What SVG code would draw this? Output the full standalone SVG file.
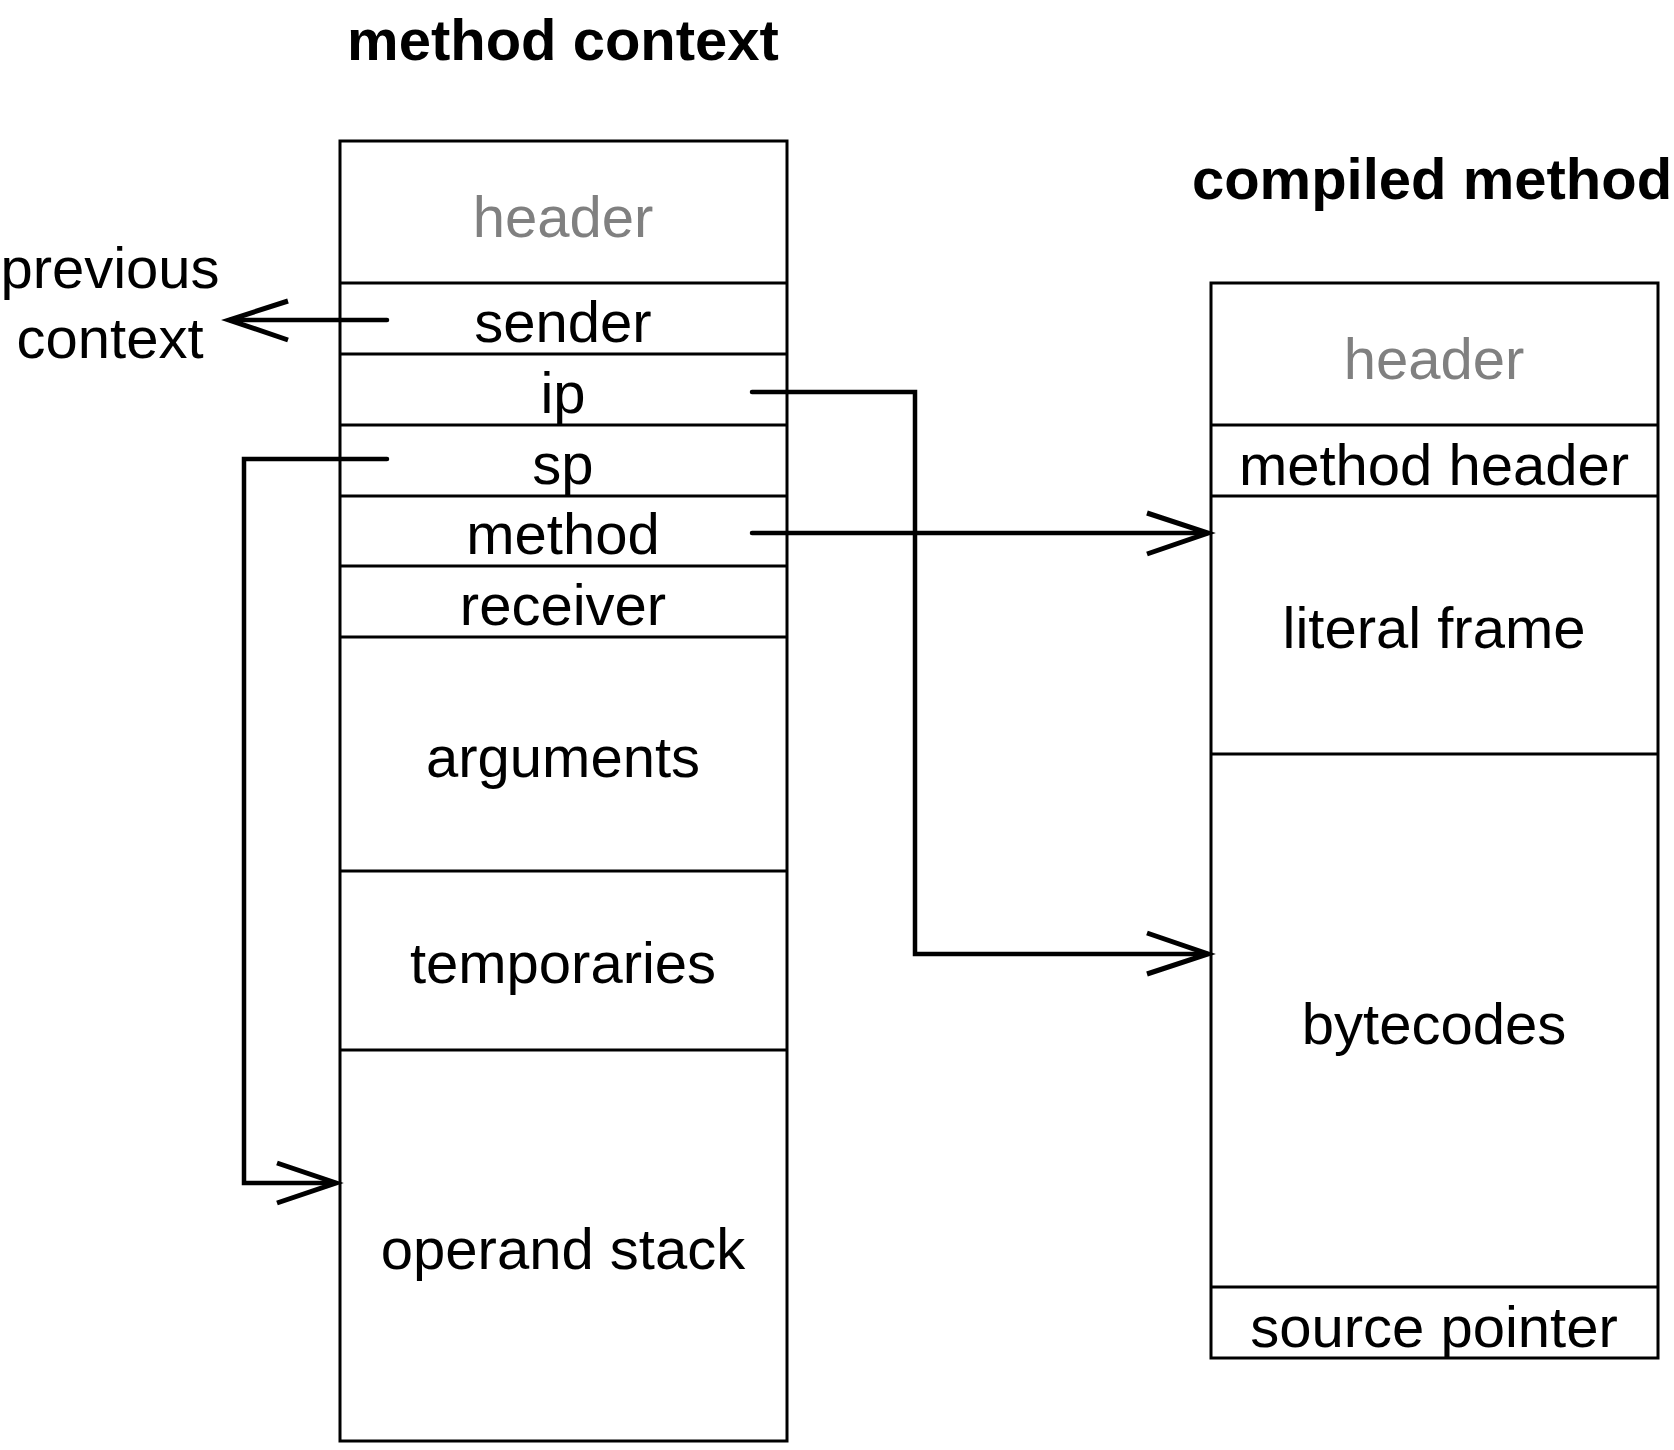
<svg xmlns="http://www.w3.org/2000/svg" width="1674" height="1450" viewBox="0 0 1674 1450">
<style>
.box{fill:#fff;stroke:#000;stroke-width:3}
.div{stroke:#000;stroke-width:3}
.t{font-family:"Liberation Sans",Arial,sans-serif;font-size:58px;fill:#000;text-anchor:middle}
.g{fill:#808080}
.title{font-weight:bold}
.conn{fill:none;stroke:#000;stroke-width:4.5;stroke-linecap:round;stroke-linejoin:miter}
.head{fill:none;stroke:#000;stroke-width:5;stroke-linecap:butt;stroke-linejoin:miter}
</style>
<rect width="1674" height="1450" fill="#fff"/>
<g id="titles">
<text class="t title" x="563" y="60">method context</text>
<text class="t title" x="1432" y="199">compiled method</text>
</g>
<g id="method-context">
<rect class="box" x="340" y="141" width="447" height="1300"/>
<line class="div" x1="340" y1="283" x2="787" y2="283"/>
<line class="div" x1="340" y1="354" x2="787" y2="354"/>
<line class="div" x1="340" y1="425" x2="787" y2="425"/>
<line class="div" x1="340" y1="496" x2="787" y2="496"/>
<line class="div" x1="340" y1="566" x2="787" y2="566"/>
<line class="div" x1="340" y1="637" x2="787" y2="637"/>
<line class="div" x1="340" y1="871" x2="787" y2="871"/>
<line class="div" x1="340" y1="1050" x2="787" y2="1050"/>
<text class="t g" x="563" y="237">header</text>
<text class="t" x="563" y="342">sender</text>
<text class="t" x="563" y="413">ip</text>
<text class="t" x="563" y="484">sp</text>
<text class="t" x="563" y="554">method</text>
<text class="t" x="563" y="625">receiver</text>
<text class="t" x="563" y="777">arguments</text>
<text class="t" x="563" y="983">temporaries</text>
<text class="t" x="563" y="1269">operand stack</text>
</g>
<g id="compiled-method">
<rect class="box" x="1211" y="283" width="447" height="1075"/>
<line class="div" x1="1211" y1="425" x2="1658" y2="425"/>
<line class="div" x1="1211" y1="496" x2="1658" y2="496"/>
<line class="div" x1="1211" y1="754" x2="1658" y2="754"/>
<line class="div" x1="1211" y1="1287" x2="1658" y2="1287"/>
<text class="t g" x="1434" y="379">header</text>
<text class="t" x="1434" y="485">method header</text>
<text class="t" x="1434" y="648">literal frame</text>
<text class="t" x="1434" y="1044">bytecodes</text>
<text class="t" x="1434" y="1347">source pointer</text>
</g>
<g id="previous-context">
<text class="t" x="110" y="288">previous</text>
<text class="t" x="110" y="358">context</text>
</g>
<g id="connectors">
<path class="conn" d="M387,320 H230"/>
<path class="head" d="M288,301 L229,320 L288,340"/>
<path class="conn" d="M752,392 H915 V954 H1206"/>
<path class="head" d="M1147,933 L1208,954 L1147,974"/>
<path class="conn" d="M752,533 H1206"/>
<path class="head" d="M1147,513 L1208,533 L1147,554"/>
<path class="conn" d="M387,459 H244 V1183 H334"/>
<path class="head" d="M277,1163 L336,1183 L277,1203"/>
</g>
</svg>
